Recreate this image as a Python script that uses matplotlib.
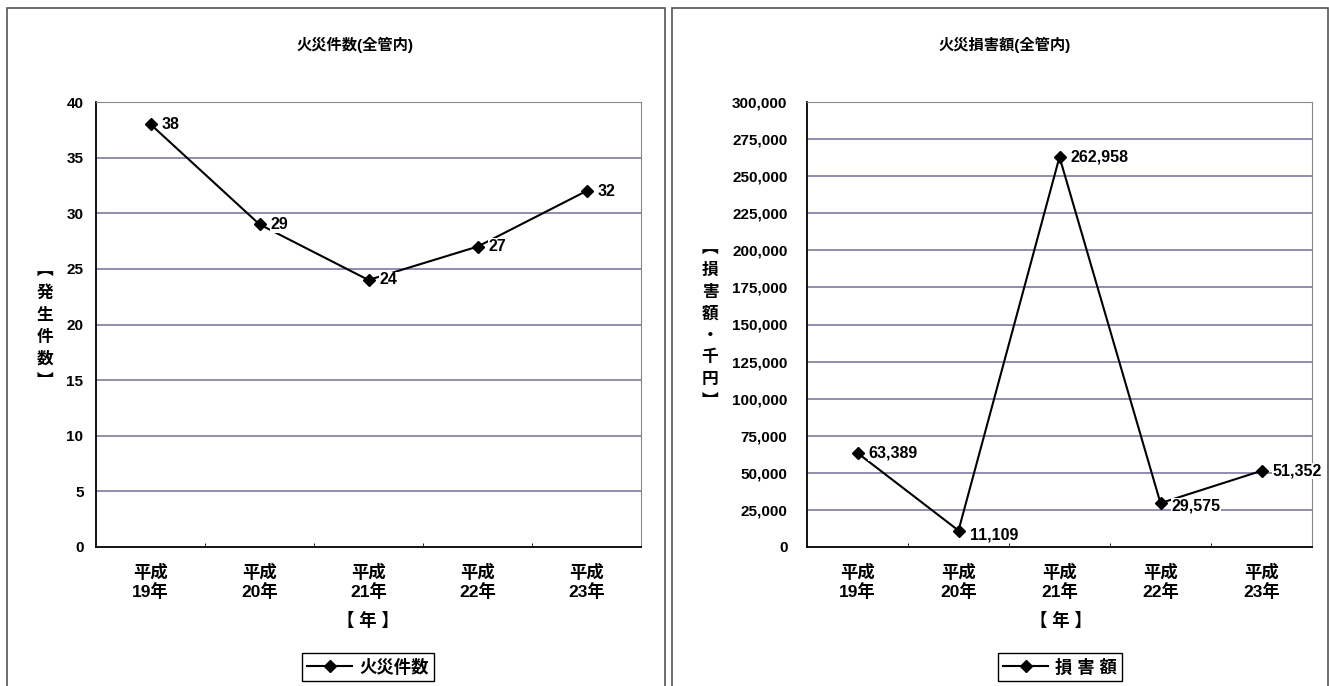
import matplotlib.pyplot as plt
from matplotlib.patches import Rectangle
from matplotlib.lines import Line2D

plt.rcParams['font.family'] = ['Liberation Sans', 'Noto Sans CJK JP']
plt.rcParams['font.weight'] = 'bold'

years = ['平成\n19年', '平成\n20年', '平成\n21年', '平成\n22年', '平成\n23年']
fire_counts = [38, 29, 24, 27, 32]
damage = [63389, 11109, 262958, 29575, 51352]

count_ticks = [0, 5, 10, 15, 20, 25, 30, 35, 40]
damage_ticks = [0, 25000, 50000, 75000, 100000, 125000, 150000, 175000,
                200000, 225000, 250000, 275000, 300000]

GRID = '#736e98'

fig = plt.figure(figsize=(13.29, 6.86), dpi=100)

# outer frames of the two chart panels
W, H = 1329, 686
for x0, x1 in [(7, 665), (672, 1328)]:
    fig.patches.append(Rectangle((x0 / W, -0.01), (x1 - x0) / W, 1 - 8 / H + 0.01,
                                 transform=fig.transFigure, fill=False,
                                 edgecolor='#555555', linewidth=1.2))


def setup_axes(ax, ticks, fmt, pad):
    n = len(years)
    ax.set_xlim(-0.5, n - 0.5)
    ax.set_ylim(ticks[0], ticks[-1])
    ax.set_yticks(ticks)
    ax.set_yticklabels([fmt(t) for t in ticks], fontsize=11, fontweight='bold')
    ax.set_xticks(range(n))
    ax.set_xticklabels(years, fontsize=12.5, fontweight='bold', linespacing=1.15)
    ax.set_xticks([i + 0.5 for i in range(n - 1)], minor=True)
    ax.tick_params(axis='x', which='major', length=0, pad=12)
    ax.tick_params(axis='x', which='minor', direction='in', length=3, color='black')
    ax.tick_params(axis='y', length=0, pad=pad)
    for t in ticks[1:-1]:
        ax.axhline(t, color=GRID, linewidth=1.1, zorder=1)
    for s in ['top', 'right']:
        ax.spines[s].set_linestyle((0, (1, 1)))
        ax.spines[s].set_color('#888888')
    for s in ['left', 'bottom']:
        ax.spines[s].set_color('black')
        ax.spines[s].set_linewidth(1.3)


def data_label(ax, x, y, text, dx=10, dy=0):
    ax.annotate(text, (x, y), xytext=(dx, dy), textcoords='offset points',
                ha='left', va='center', fontsize=11.5, fontweight='bold',
                clip_on=False, zorder=5,
                bbox=dict(facecolor='white', edgecolor='none', pad=0.5))


# left: number of fires
ax1 = fig.add_axes([96 / W, 1 - 547 / H, 545 / W, 445 / H])
setup_axes(ax1, count_ticks, lambda t: str(t), 9)
ax1.plot(range(len(years)), fire_counts, color='black', linewidth=1.5,
         marker='D', markersize=6, zorder=4)
for i, v in enumerate(fire_counts):
    data_label(ax1, i, v, str(v), dx=8)

# right: damage amount
ax2 = fig.add_axes([807 / W, 1 - 547 / H, 505 / W, 445 / H])
setup_axes(ax2, damage_ticks, lambda t: f'{t:,}', 14)
ax2.plot(range(len(years)), damage, color='black', linewidth=1.5,
         marker='D', markersize=6, zorder=4)
offsets = [(8, 0), (8, -3), (8, 0), (8, -2), (8, 0)]
for i, v in enumerate(damage):
    data_label(ax2, i, v, f'{v:,}', *offsets[i])

# titles and axis titles
fig.text(355 / W, 1 - 45 / H, '火災件数(全管内)', ha='center', va='center',
         fontsize=11, fontweight='bold')
fig.text(1005 / W, 1 - 45 / H, '火災損害額(全管内)', ha='center', va='center',
         fontsize=11, fontweight='bold')
fig.text(45 / W, 1 - 326 / H, '\n'.join('︻発生件数︼'), ha='center', va='center',
         fontsize=12, fontweight='bold', linespacing=1.55)
fig.text(710 / W, 1 - 325 / H, '\n'.join('︻損害額・千円︼'), ha='center', va='center',
         fontsize=12, fontweight='bold', linespacing=1.55)
fig.text(368 / W, 1 - 620 / H, '【 年 】', ha='center', va='center',
         fontsize=12.5, fontweight='bold')
fig.text(1061 / W, 1 - 620 / H, '【 年 】', ha='center', va='center',
         fontsize=12.5, fontweight='bold')

# legends
for ax, label, cx in [(ax1, '火災件数', 368), (ax2, '損 害 額', 1060)]:
    h = Line2D([], [], color='black', linewidth=1.5, marker='D', markersize=6)
    leg = fig.legend([h], [label], loc='center', bbox_to_anchor=(cx / W, 1 - 667 / H),
                     fancybox=False, edgecolor='black', framealpha=1,
                     prop={'size': 12.5, 'weight': 'bold'}, handlelength=2.6,
                     borderpad=0.3, handletextpad=0.4)
    leg.get_frame().set_linewidth(1.0)

fig.savefig('out.png', dpi=100)
